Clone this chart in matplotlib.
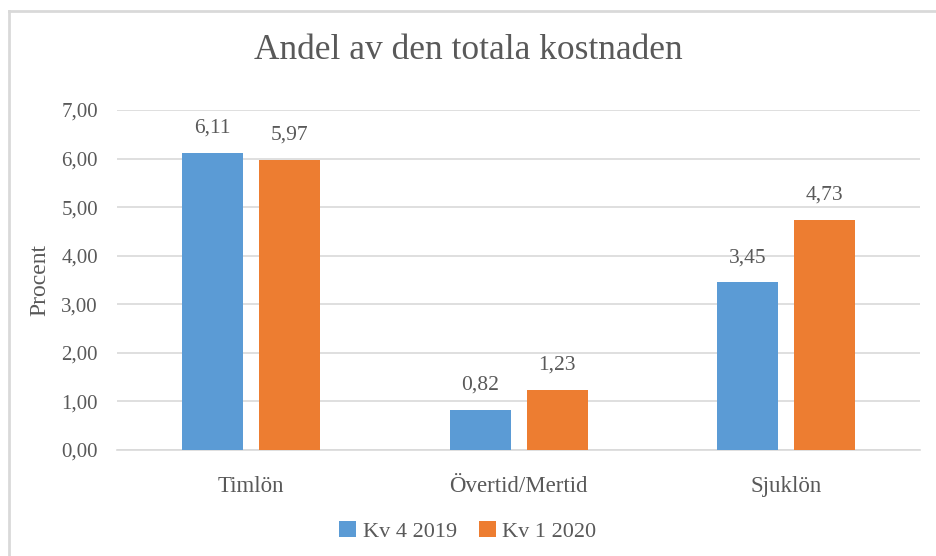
import matplotlib.pyplot as plt
from matplotlib.lines import Line2D
import numpy as np

categories = ["Timlön", "Övertid/Mertid", "Sjuklön"]
series_names = ["Kv 4 2019", "Kv 1 2020"]
kv4_2019 = [6.11, 0.82, 3.45]
kv1_2020 = [5.97, 1.23, 4.73]
yticks = [0, 1, 2, 3, 4, 5, 6, 7]

blue = "#5B9BD5"
orange = "#ED7D31"
txt = "#595959"
grid = "#D9D9D9"

plt.rcParams['font.family'] = ['Liberation Serif', 'DejaVu Serif']

fig = plt.figure(figsize=(9.36, 5.56), dpi=100)
ax = fig.add_axes([0.1255, 0.1906, 0.857, 0.6115])

x = np.arange(len(categories))
w = 0.228
off = 0.144
b1 = ax.bar(x - off, kv4_2019, w, color=blue, label=series_names[0], zorder=3)
b2 = ax.bar(x + off, kv1_2020, w, color=orange, label=series_names[1], zorder=3)

fmt = lambda v: f"{v:.2f}".replace(".", ",")
for bars, vals in [(b1, kv4_2019), (b2, kv1_2020)]:
    for r, v in zip(bars, vals):
        ax.annotate(fmt(v), (r.get_x() + r.get_width() / 2, v), xytext=(0, 11),
                    textcoords="offset points", ha="center", va="bottom",
                    fontsize=15.5, color=txt)

ax.set_xlim(-0.5, 2.5)
ax.set_ylim(0, 7)
ax.set_yticks(yticks)
ax.set_yticklabels([fmt(t) for t in yticks])
ax.set_xticks(x)
ax.set_xticklabels(categories)
ax.tick_params(axis='both', length=0, labelsize=15, labelcolor=txt)
ax.tick_params(axis='x', pad=19, labelsize=16.5)
ax.tick_params(axis='y', pad=14)
ax.yaxis.grid(True, color=grid, linewidth=1.2, zorder=0)
for s in ["top", "right", "left"]:
    ax.spines[s].set_visible(False)
ax.spines["bottom"].set_color(grid)
ax.spines["bottom"].set_linewidth(1.2)
ax.set_ylabel("Procent", fontsize=17, color=txt, labelpad=8)

fig.text(0.5, 0.91, "Andel av den totala kostnaden", ha="center", va="center",
         fontsize=25.5, color=txt)

fig.legend(loc="lower center", bbox_to_anchor=(0.5, -0.01), ncol=2, frameon=False,
           fontsize=16, labelcolor=txt, handlelength=0.75, handleheight=0.75,
           columnspacing=1.0, handletextpad=0.3)

fig.add_artist(Line2D([8.5 / 936, 8.5 / 936], [0.0, 1 - 11 / 556], color=grid, linewidth=2))
fig.add_artist(Line2D([8.5 / 936, 1.0], [1 - 11 / 556, 1 - 11 / 556], color=grid, linewidth=2))

fig.savefig("out.png", dpi=100)
